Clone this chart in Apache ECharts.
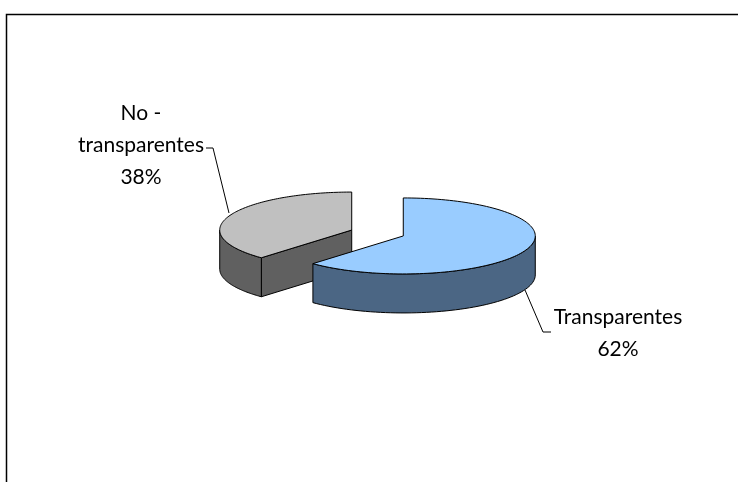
<!DOCTYPE html>
<html><head><meta charset="utf-8">
<script src="https://cdn.jsdelivr.net/npm/echarts@6/dist/echarts.min.js"></script>
<style>html,body{margin:0;padding:0;background:#fff}#c{width:738px;height:482px}</style>
</head><body><div id="c"></div>
<script>
// ---- data ----
const categories = ['Transparentes', 'No - transparentes'];
const labelNames = ['Transparentes', 'No -\ntransparentes'];
const values = [62, 38];

// ---- style ----
const topColors = ['#99CCFF', '#C0C0C0'];
const sideColors = ['#4B6684', '#606060'];
const CX = 377.5, CY = 233, RX = 132, RY = 38, DEPTH = 39, EXPLODE = 0.21;
const FONT = 'Lato';
const FONT_SIZE = 21;
// label layout: block centre and leader-line points
const labelLayout = [
  { x: 618, y: 333.5, line: [[525, 290], [543, 332], [551, 332]] },
  { x: 141, y: 145, line: [[206, 148], [213, 148], [229, 213]] }
];

const total = values.reduce((a, b) => a + b, 0);

function pt(cx, cy, t, dy) {
  return [cx + RX * Math.sin(t), cy - RY * Math.cos(t) + (dy || 0)];
}

function renderItem(params, api) {
  const i = params.dataIndex;
  let before = 0;
  for (let k = 0; k < i; k++) before += values[k];
  const a0 = before / total * Math.PI * 2;
  const a1 = (before + api.value(0)) / total * Math.PI * 2;
  const mid = (a0 + a1) / 2;
  const cx = CX + EXPLODE * RX * Math.sin(mid);
  const cy = CY - EXPLODE * RY * Math.cos(mid);
  const z = Math.round(100 - 50 * Math.cos(mid));
  const stroke = { stroke: '#000', lineWidth: 1, lineJoin: 'round' };
  const children = [];
  const eps = 1e-6;

  // cut faces
  const face = (t) => {
    const p = pt(cx, cy, t);
    return {
      type: 'polygon', z2: z,
      shape: { points: [[cx, cy], p, [p[0], p[1] + DEPTH], [cx, cy + DEPTH]] },
      style: Object.assign({ fill: sideColors[i] }, stroke)
    };
  };
  if (Math.sin(a0) < -eps) children.push(face(a0));
  if (Math.sin(a1) > eps) children.push(face(a1));

  // outer side (front half only)
  const s0 = Math.max(a0, Math.PI / 2), s1 = Math.min(a1, Math.PI * 1.5);
  if (s1 > s0) {
    const n = 60, topPts = [], botPts = [];
    for (let k = 0; k <= n; k++) {
      const t = s0 + (s1 - s0) * k / n;
      topPts.push(pt(cx, cy, t));
      botPts.push(pt(cx, cy, t, DEPTH));
    }
    children.push({
      type: 'polygon', z2: z + 1,
      shape: { points: topPts.concat(botPts.reverse()) },
      style: Object.assign({ fill: sideColors[i] }, stroke)
    });
  }

  // top
  const n = 120, topPts = [[cx, cy]];
  for (let k = 0; k <= n; k++) topPts.push(pt(cx, cy, a0 + (a1 - a0) * k / n));
  children.push({
    type: 'polygon', z2: z + 2,
    shape: { points: topPts },
    style: Object.assign({ fill: topColors[i] }, stroke)
  });

  // label
  const L = labelLayout[i];
  const pct = Math.round(api.value(0) / total * 100) + '%';
  children.push({
    type: 'polyline', z2: 300,
    shape: { points: L.line },
    style: { stroke: '#000', lineWidth: 1, fill: null }
  });
  children.push({
    type: 'text', z2: 300, x: L.x, y: L.y,
    style: {
      text: labelNames[i] + '\n' + pct,
      fill: '#000', fontFamily: FONT, fontSize: FONT_SIZE,
      align: 'center', verticalAlign: 'middle', lineHeight: 32
    }
  });

  return { type: 'group', children };
}

const chart = echarts.init(document.getElementById('c'), null, { renderer: 'canvas' });
chart.setOption({
  animation: false,
  backgroundColor: '#fff',
  graphic: [{
    type: 'rect', z: 0,
    shape: { x: 6.5, y: 14.5, width: 800, height: 600 },
    style: { fill: 'none', stroke: '#000', lineWidth: 1.5 }
  }],
  series: [{
    type: 'custom',
    coordinateSystem: 'none',
    renderItem: renderItem,
    data: values.map((v, i) => ({ name: categories[i], value: [v] }))
  }]
});
</script>
</body></html>
